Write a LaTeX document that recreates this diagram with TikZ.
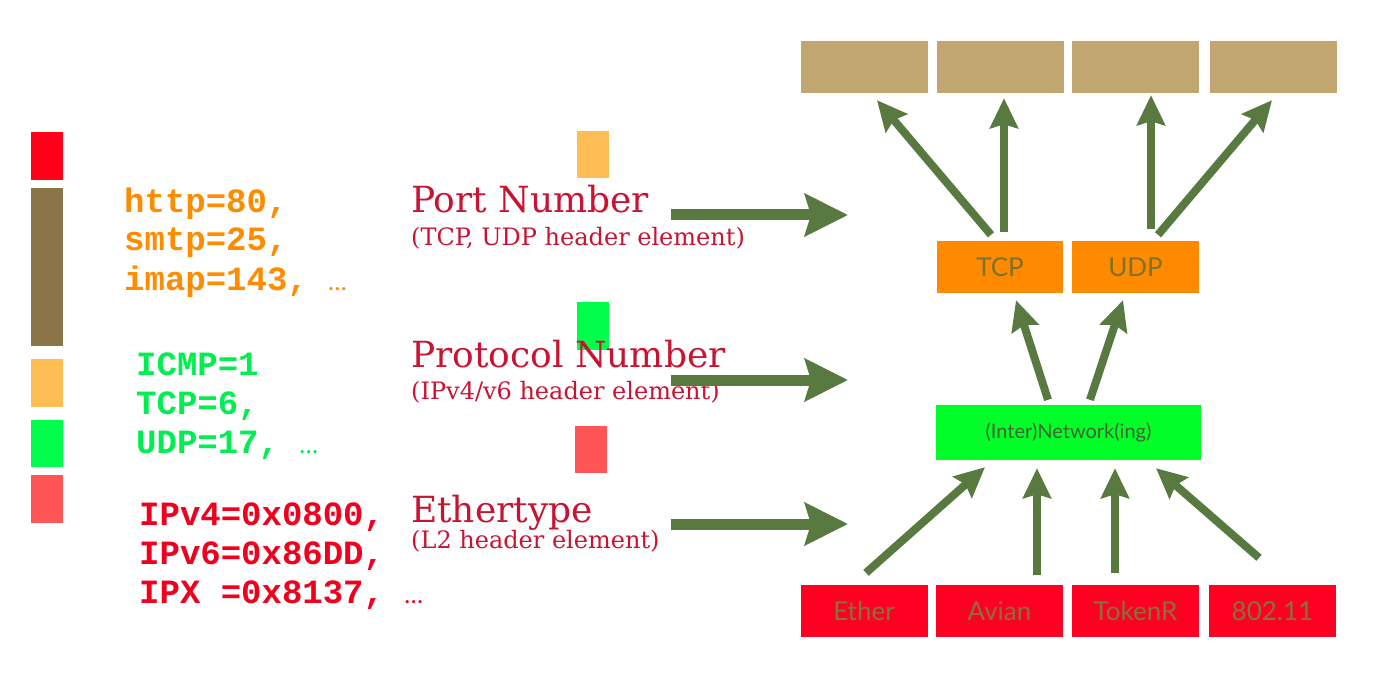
\documentclass[tikz,border=0pt]{standalone}
\usepackage{fontspec}
\setmainfont{DejaVu Serif}
\setmonofont{Liberation Mono}
\setsansfont{Lato}
\usetikzlibrary{arrows.meta,positioning}
\definecolor{kred}{RGB}{255,0,24}
\definecolor{kbrown}{RGB}{139,117,72}
\definecolor{korange}{RGB}{255,190,85}
\definecolor{kgreen}{RGB}{0,255,76}
\definecolor{ksalmon}{RGB}{255,85,85}
\definecolor{torange}{RGB}{255,140,0}
\definecolor{tgreen}{RGB}{0,238,80}
\definecolor{tred}{RGB}{240,0,30}
\definecolor{crimson}{RGB}{200,20,50}
\definecolor{tan}{RGB}{194,166,111}
\definecolor{borange}{RGB}{255,138,0}
\definecolor{bgreen}{RGB}{0,255,40}
\definecolor{bred}{RGB}{255,0,35}
\definecolor{agreen}{RGB}{88,122,64}
\definecolor{olive}{RGB}{125,115,40}
\definecolor{tbrown}{RGB}{140,112,60}
\newcommand{\etc}{{\sffamily\mdseries\fontsize{25}{25}\selectfont…}}

\begin{document}
\begin{tikzpicture}[x=1pt,y=-1pt,
  bar/.style={inner sep=0pt,minimum width=32pt},
  code/.style={anchor=base west,inner sep=0pt,
               font=\ttfamily\bfseries\fontsize{34}{40}\selectfont},
  lbl/.style={anchor=base west,inner sep=0pt,text=crimson,
              font=\fontsize{36}{42}\selectfont},
  sub/.style={anchor=base west,inner sep=0pt,text=crimson,
              font=\fontsize{24}{28}\selectfont},
  box/.style={inner sep=0pt,minimum width=127pt,minimum height=52pt,
              text=olive,font=\sffamily\fontsize{26}{28}\selectfont},
  big/.style={draw=agreen,line width=11pt,
              -{Stealth[length=43pt,width=42pt,inset=6pt]}},
  up/.style={draw=agreen,line width=8pt,
             -{Stealth[length=30pt,width=28pt,inset=4pt]}}]
  \useasboundingbox (0,0) rectangle (1373,679);

  % colour key on the left
  \node[bar,fill=kred,minimum height=48pt] (k1) at (47,156) {};
  \node[bar,fill=kbrown,minimum height=158pt] (k2) at (47,267) {};
  \node[bar,fill=korange,minimum height=48pt] (k3) at (47,383) {};
  \node[bar,fill=kgreen,minimum height=47pt] (k4) at (47,443.5) {};
  \node[bar,fill=ksalmon,minimum height=48pt] (k5) at (47,499) {};

  \node[code,text=torange] (http) at (124,212) {http=80,};
  \node[code,text=torange] (smtp) at (124,251) {smtp=25,};
  \node[code,text=torange] (imap) at (124,290) {imap=143, \etc};
  \node[code,text=tgreen] (icmp) at (136,375) {ICMP=1};
  \node[code,text=tgreen] (tcpn) at (136,414) {TCP=6,};
  \node[code,text=tgreen] (udpn) at (136,453) {UDP=17, \etc};
  \node[code,text=tred] (ipv4) at (139,525) {IPv4=0x0800,};
  \node[code,text=tred] (ipv6) at (139,564) {IPv6=0x86DD,};
  \node[code,text=tred] (ipx) at (139,603) {IPX =0x8137, \etc};

  % header fields
  \node[bar,fill=korange,minimum height=47pt] (s1) at (593,154.5) {};
  \node[bar,fill=kgreen,minimum height=48pt] (s2) at (592.5,326) {};
  \node[bar,fill=ksalmon,minimum height=47pt] (s3) at (591,449.5) {};

  \node[lbl] (port) at (411,213) {Port Number};
  \node[sub] (portsub) at (411,245) {(TCP, UDP header element)};
  \node[lbl] (proto) at (411,367) {Protocol Number};
  \node[sub] (protosub) at (411,399) {(IPv4/v6 header element)};
  \node[lbl] (ether) at (411,522) {Ethertype};
  \node[sub] (ethersub) at (411,548) {(L2 header element)};

  \coordinate (pa) at (671,215);  \coordinate (pb) at (848,215);
  \coordinate (qa) at (671,380);  \coordinate (qb) at (848,380);
  \coordinate (ra) at (671,524);  \coordinate (rb) at (848,524);
  \draw[big] (pa) -- (pb);
  \draw[big] (qa) -- (qb);
  \draw[big] (ra) -- (rb);

  % layer stack
  \node[box,fill=tan] (t1) at (864.5,67) {};
  \node[box,fill=tan] (t2) at (1000.5,67) {};
  \node[box,fill=tan] (t3) at (1135.5,67) {};
  \node[box,fill=tan] (t4) at (1273.5,67) {};
  \node[box,fill=borange,minimum width=126pt] (tcp) at (1000,267) {TCP};
  \node[box,fill=borange] (udp) at (1135.5,267) {UDP};
  \node[box,fill=bgreen,minimum width=265pt,minimum height=55pt,
        text=agreen!80!black,font=\sffamily\fontsize{20}{22}\selectfont]
       (net) at (1068.5,432.5) {(Inter)Network(ing)};
  \node[box,fill=bred,text=tbrown] (eth) at (864,611) {Ether};
  \node[box,fill=bred,text=tbrown] (avi) at (999.5,611) {Avian};
  \node[box,fill=bred,text=tbrown] (tok) at (1135.5,611) {TokenR};
  \node[box,fill=bred,text=tbrown] (wif) at (1272.5,611) {802.11};

  \draw[up] ([xshift=-9pt,yshift=6pt]tcp.north) -- ([xshift=12.5pt,yshift=-7pt]t1.south);
  \draw[up] ([xshift=4pt,yshift=9pt]tcp.north) -- ([xshift=3.5pt,yshift=-5pt]t2.south);
  \draw[up] ([xshift=15.5pt,yshift=12pt]udp.north) -- ([xshift=15.5pt,yshift=-2pt]t3.south);
  \draw[up] ([xshift=22.5pt,yshift=6pt]udp.north) -- ([xshift=-1.5pt,yshift=-7pt]t4.south);
  \draw[up] ([xshift=-20.5pt,yshift=5pt]net.north) -- ([xshift=16pt,yshift=-7pt]tcp.south);
  \draw[up] ([xshift=21.5pt,yshift=5pt]net.north) -- ([xshift=-12.5pt,yshift=-7pt]udp.south);
  \draw[up] ([xshift=2pt,yshift=12pt]eth.north) -- ([xshift=-83.5pt,yshift=-7pt]net.south);
  \draw[up] ([xshift=37.5pt,yshift=10pt]avi.north) -- ([xshift=-31.5pt,yshift=-8pt]net.south);
  \draw[up] ([xshift=-20.5pt,yshift=12pt]tok.north) -- ([xshift=46.5pt,yshift=-8pt]net.south);
  \draw[up] ([xshift=-13.5pt,yshift=27pt]wif.north) -- ([xshift=87.5pt,yshift=-8pt]net.south);
\end{tikzpicture}
\end{document}
